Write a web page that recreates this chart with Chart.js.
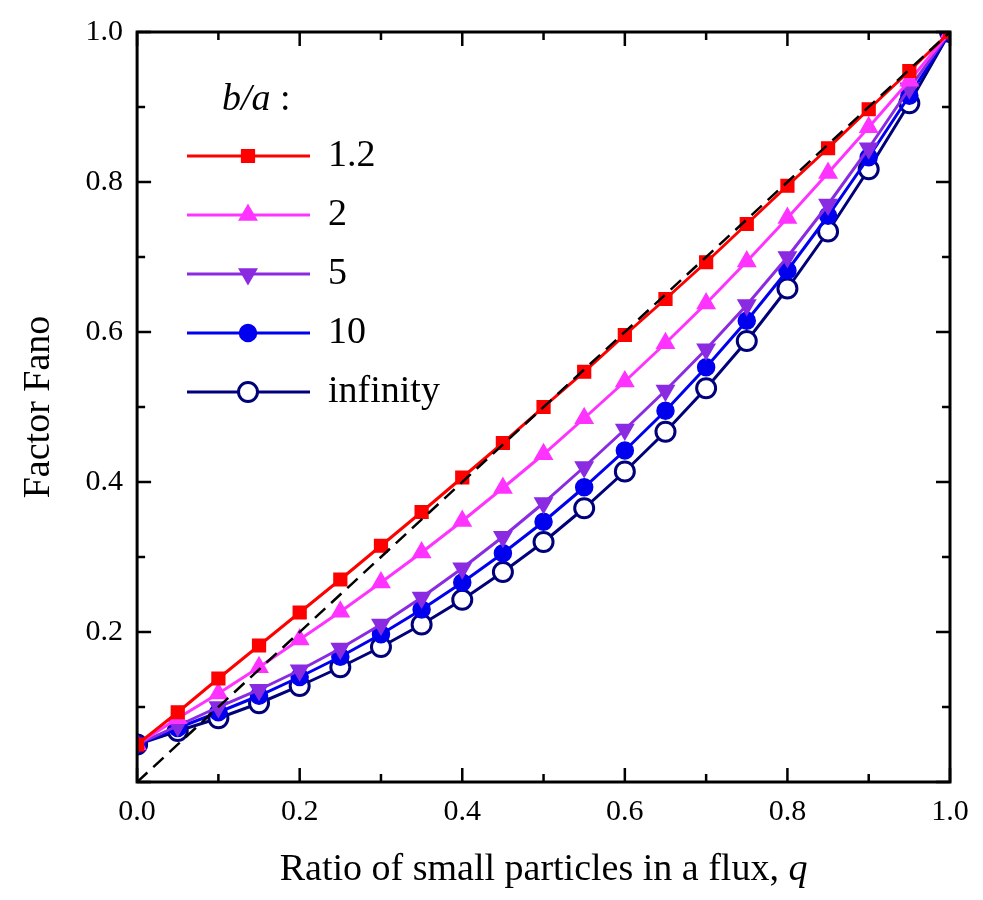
<!DOCTYPE html>
<html><head><meta charset="utf-8">
<script src="https://cdn.jsdelivr.net/npm/chart.js@4"></script>
<style>body{margin:0;background:#fff}</style>
</head><body>
<canvas id="c" width="983" height="900"></canvas>
<script>
const qValues = [0,0.05,0.1,0.15,0.2,0.25,0.3,0.35,0.4,0.45,0.5,0.55,0.6,0.65,0.7,0.75,0.8,0.85,0.9,0.95,1];
const fano12 = [0.05,0.093,0.138,0.182,0.226,0.27,0.315,0.36,0.406,0.452,0.5,0.547,0.596,0.644,0.693,0.744,0.795,0.845,0.897,0.948,1];
const fano2 = [0.05,0.085,0.118,0.153,0.19,0.227,0.266,0.306,0.348,0.392,0.437,0.485,0.534,0.585,0.638,0.694,0.752,0.812,0.873,0.935,1];
const fano5 = [0.05,0.075,0.1,0.123,0.149,0.178,0.21,0.246,0.285,0.327,0.372,0.42,0.47,0.522,0.577,0.636,0.7,0.77,0.845,0.925,1];
const fano10 = [0.05,0.072,0.093,0.115,0.14,0.167,0.197,0.23,0.266,0.305,0.347,0.393,0.442,0.495,0.553,0.615,0.682,0.755,0.833,0.915,1];
const fanoInf = [0.05,0.068,0.085,0.105,0.128,0.153,0.18,0.21,0.243,0.28,0.32,0.365,0.414,0.467,0.525,0.588,0.658,0.734,0.817,0.905,1];
const legendLabels = ['1.2','2','5','10','infinity'];
const FONT = '"Liberation Serif", "Times New Roman", serif';

function pts(ys) { return qValues.map((q, i) => ({x: q, y: ys[i]})); }
function series(label, ys, color, style, extra) {
  return Object.assign({
    label, data: pts(ys), borderColor: color, backgroundColor: color,
    borderWidth: 3, pointStyle: style, pointRadius: 9, pointBorderWidth: 1.5
  }, extra || {});
}

const datasets = [
  {label: 'diag', data: [{x:0,y:0},{x:1,y:1}], borderColor: '#000', borderDash: [14,8], borderWidth: 2.5, pointRadius: 0},
  series(legendLabels[0], fano12, '#ff0000', 'rect', {pointRadius: 9}),
  series(legendLabels[1], fano2, '#ff33ff', 'triangle', {pointRadius: 10}),
  series(legendLabels[2], fano5, '#8a2be2', 'triangle', {pointRadius: 10, pointRotation: 180}),
  series(legendLabels[3], fano10, '#0000ee', 'circle', {pointRadius: 8.5}),
  series(legendLabels[4], fanoInf, '#00007a', 'circle', {pointRadius: 9.5, backgroundColor: '#fff', pointBorderWidth: 3})
];

const decor = {
  id: 'decor',
  afterDraw(chart) {
    const {ctx, chartArea: a, scales: {x, y}} = chart;
    ctx.save();
    ctx.strokeStyle = '#000'; ctx.lineWidth = 3;
    ctx.strokeRect(a.left, a.top, a.right - a.left, a.bottom - a.top);
    ctx.lineWidth = 2.5;
    for (let v = 0; v <= 1.0001; v += 0.1) {
      const L = Math.round(v * 10) % 2 === 0 ? 14 : 8;
      const px = x.getPixelForValue(v), py = y.getPixelForValue(v);
      ctx.beginPath();
      ctx.moveTo(px, a.bottom); ctx.lineTo(px, a.bottom - L);
      ctx.moveTo(px, a.top); ctx.lineTo(px, a.top + L);
      ctx.moveTo(a.left, py); ctx.lineTo(a.left + L, py);
      ctx.moveTo(a.right, py); ctx.lineTo(a.right - L, py);
      ctx.stroke();
    }
    // legend
    ctx.fillStyle = '#000';
    ctx.font = 'italic 38px ' + FONT;
    ctx.textBaseline = 'middle';
    ctx.fillText('b/a', 222, 100);
    ctx.font = '38px ' + FONT;
    ctx.fillText(':', 280, 100);
    const ds = chart.data.datasets.slice(1);
    ds.forEach((d, i) => {
      const yy = 156 + i * 59;
      ctx.strokeStyle = d.borderColor; ctx.lineWidth = 3;
      ctx.beginPath(); ctx.moveTo(187, yy); ctx.lineTo(310, yy); ctx.stroke();
      ctx.fillStyle = d.backgroundColor; ctx.strokeStyle = d.borderColor;
      ctx.lineWidth = d.pointBorderWidth;
      Chart.helpers.drawPoint(ctx, {pointStyle: d.pointStyle, radius: d.pointRadius, borderWidth: d.pointBorderWidth, rotation: d.pointRotation || 0}, 248, yy);
      ctx.fillStyle = '#000';
      ctx.fillText(d.label, 328, yy);
    });
    // x title
    ctx.textBaseline = 'alphabetic';
    const t1 = 'Ratio of small particles in a flux, ';
    ctx.font = '38px ' + FONT;
    const w1 = ctx.measureText(t1).width;
    ctx.font = 'italic 38px ' + FONT;
    const w2 = ctx.measureText('q').width;
    const sx = (a.left + a.right) / 2 - (w1 + w2) / 2;
    ctx.font = '38px ' + FONT; ctx.fillText(t1, sx, 880);
    ctx.font = 'italic 38px ' + FONT; ctx.fillText('q', sx + w1, 880);
    ctx.restore();
  }
};

new Chart(document.getElementById('c'), {
  type: 'line',
  data: {datasets},
  options: {
    responsive: false, animation: false,
    layout: {padding: {top: 4, right: 33, bottom: 58, left: 12}},
    plugins: {legend: {display: false}, tooltip: {enabled: false}},
    scales: {
      x: {type: 'linear', min: 0, max: 1,
        grid: {display: false, drawTicks: false}, border: {display: false},
        ticks: {stepSize: 0.2, padding: 12, color: '#000', font: {family: FONT, size: 30},
          callback: v => v.toFixed(1)}},
      y: {min: 0, max: 1,
        grid: {display: false, drawTicks: false}, border: {display: false},
        title: {display: true, text: 'Factor Fano', color: '#000', font: {family: FONT, size: 38}, padding: {bottom: 10}},
        ticks: {stepSize: 0.2, padding: 14, color: '#000', font: {family: FONT, size: 30},
          callback: v => v === 0 ? '' : v.toFixed(1)}}
    }
  },
  plugins: [decor]
});
</script>
</body></html>
